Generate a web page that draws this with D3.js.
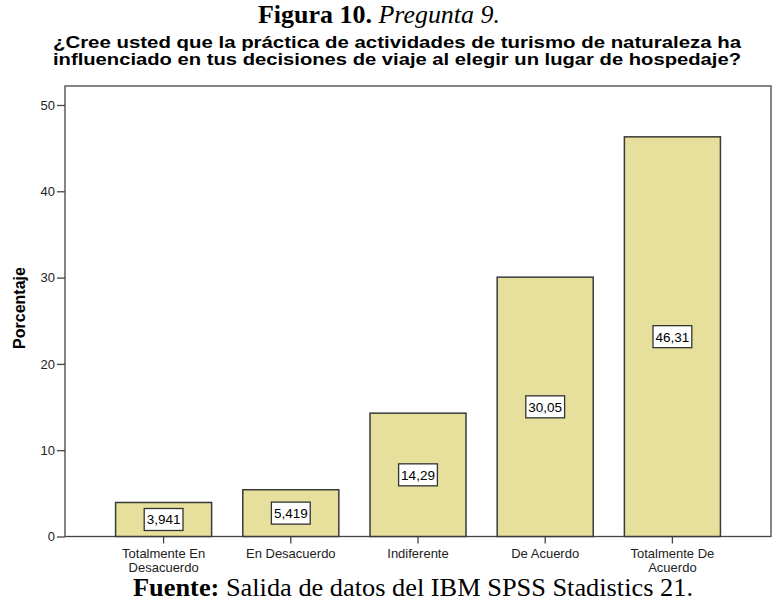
<!DOCTYPE html>
<html>
<head>
<meta charset="utf-8">
<script src="https://cdn.jsdelivr.net/npm/d3@7"></script>
<style>
  body { margin: 0; background: #fff; }
  svg text { font-family: "Liberation Sans", Arial, sans-serif; }
</style>
</head>
<body>
<div id="chart"></div>
<script>
// data
var categories = ["Totalmente En Desacuerdo", "En Desacuerdo", "Indiferente", "De Acuerdo", "Totalmente De Acuerdo"];
var tickLines = [["Totalmente En", "Desacuerdo"], ["En Desacuerdo"], ["Indiferente"], ["De Acuerdo"], ["Totalmente De", "Acuerdo"]];
var percentages = [3.941, 5.419, 14.29, 30.05, 46.31];
var yTicks = [0, 10, 20, 30, 40, 50];
var titleLines = ["¿Cree usted que la práctica de actividades de turismo de naturaleza ha",
                  "influenciado en tus decisiones de viaje al elegir un lugar de hospedaje?"];

var width = 776, height = 605;
var frame = { left: 65, right: 771, top: 86, bottom: 536.5 };

var svg = d3.select("#chart").append("svg")
    .attr("width", width)
    .attr("height", height);

var es = d3.formatLocale({ decimal: ",", thousands: ".", grouping: [3], currency: ["", ""] });
var fmt = es.format(".4r");

var x = d3.scaleBand()
    .domain(categories)
    .range([100, 736])
    .paddingInner(0.245)
    .paddingOuter(0.1225);

var y = d3.scaleLinear()
    .domain([0, 52.2])
    .range([frame.bottom, frame.top]);

// figure caption
var cap = svg.append("text")
    .attr("x", 379)
    .attr("y", 23)
    .attr("text-anchor", "middle")
    .attr("textLength", 242)
    .attr("lengthAdjust", "spacingAndGlyphs")
    .style("font-family", "'Liberation Serif', 'Times New Roman', serif")
    .style("font-size", "25px");
cap.append("tspan").style("font-weight", "bold").text("Figura 10. ");
cap.append("tspan").style("font-style", "italic").text("Pregunta 9.");

// chart title
svg.selectAll(".title")
    .data(titleLines)
    .enter().append("text")
    .attr("class", "title")
    .attr("x", width / 2 + 9)
    .attr("y", function(d, i) { return 48 + i * 16.5; })
    .attr("text-anchor", "middle")
    .attr("textLength", 688)
    .attr("lengthAdjust", "spacingAndGlyphs")
    .style("font-size", "16.5px")
    .style("font-weight", "bold")
    .text(function(d) { return d; });

// plot frame
svg.append("rect")
    .attr("x", frame.left)
    .attr("y", frame.top)
    .attr("width", frame.right - frame.left)
    .attr("height", frame.bottom - frame.top)
    .attr("fill", "none")
    .attr("stroke", "#444")
    .attr("stroke-width", 1.3);

// bars
svg.append("g")
    .selectAll("rect")
    .data(percentages)
    .enter().append("rect")
    .attr("x", function(d, i) { return x(categories[i]); })
    .attr("y", function(d) { return y(d); })
    .attr("width", x.bandwidth())
    .attr("height", function(d) { return y(0) - y(d); })
    .attr("fill", "#e6e09c")
    .attr("stroke", "#3a3a3a")
    .attr("stroke-width", 1.5);

// value labels in boxes
var labels = svg.append("g")
    .selectAll("g")
    .data(percentages)
    .enter().append("g")
    .attr("transform", function(d, i) {
        return "translate(" + (x(categories[i]) + x.bandwidth() / 2) + "," + y(d / 2) + ")";
    });

labels.append("text")
    .attr("text-anchor", "middle")
    .attr("dy", "0.36em")
    .style("font-size", "13.5px")
    .text(function(d) { return fmt(d); })
    .each(function() {
        var bb = this.getBBox();
        d3.select(this.parentNode).insert("rect", "text")
            .attr("x", bb.x - 2.5)
            .attr("y", -11)
            .attr("width", bb.width + 5)
            .attr("height", 22)
            .attr("fill", "#fff")
            .attr("stroke", "#333")
            .attr("stroke-width", 1.3);
    });

// y axis
var yAxis = svg.append("g")
    .attr("transform", "translate(" + frame.left + ",0)")
    .call(d3.axisLeft(y).tickValues(yTicks).tickSize(8).tickPadding(2).tickFormat(d3.format("d")));
yAxis.select(".domain").remove();
yAxis.selectAll(".tick line").attr("stroke", "#444").attr("stroke-width", 1.3);
yAxis.selectAll(".tick text").style("font-size", "13px").attr("fill", "#222")
    .style("font-family", "'Liberation Sans', Arial, sans-serif");

svg.append("text")
    .attr("transform", "translate(25," + 308 + ") rotate(-90)")
    .attr("text-anchor", "middle")
    .style("font-size", "16px")
    .style("font-weight", "bold")
    .text("Porcentaje");

// x axis
var xAxis = svg.append("g")
    .attr("transform", "translate(0," + frame.bottom + ")")
    .call(d3.axisBottom(x).tickSize(7).tickFormat(""));
xAxis.select(".domain").remove();
xAxis.selectAll(".tick line").attr("stroke", "#444").attr("stroke-width", 1.3);
xAxis.selectAll(".tick").each(function(d, i) {
    var t = d3.select(this).append("text")
        .attr("text-anchor", "middle")
        .attr("fill", "#222")
        .style("font-size", "13px")
        .style("font-family", "'Liberation Sans', Arial, sans-serif");
    tickLines[i].forEach(function(line, j) {
        t.append("tspan").attr("x", 0).attr("y", 21.5 + j * 13.5).text(line);
    });
});

// source note
var src = svg.append("text")
    .attr("x", 413)
    .attr("y", 596)
    .attr("text-anchor", "middle")
    .attr("textLength", 560)
    .attr("lengthAdjust", "spacingAndGlyphs")
    .style("font-family", "'Liberation Serif', 'Times New Roman', serif")
    .style("font-size", "26px");
src.append("tspan").style("font-weight", "bold").text("Fuente: ");
src.append("tspan").text("Salida de datos del IBM SPSS Stadistics 21.");
</script>
</body>
</html>
